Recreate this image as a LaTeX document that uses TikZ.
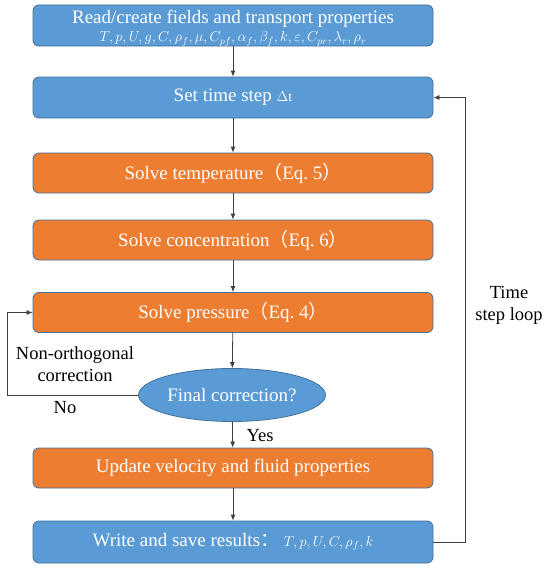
\documentclass[tikz,border=0pt]{standalone}
\usepackage{fontspec}
\setmainfont{Liberation Serif}
\newfontfamily\cjk{Noto Sans CJK SC}
\usetikzlibrary{shapes.geometric,arrows.meta}
\definecolor{bfill}{HTML}{5B9BD5}
\definecolor{ofill}{HTML}{ED7D31}
\definecolor{edge}{HTML}{41719C}
\definecolor{lineg}{HTML}{404040}
\begin{document}
\begin{tikzpicture}[x=1pt,y=-1pt,
  base/.style={draw=edge,line width=0.8pt,rounded corners=6pt,minimum width=400pt,minimum height=40pt,text=white,font=\fontsize{19}{20}\selectfont,align=center,inner sep=0pt},
  bluebox/.style={base,fill=bfill},
  orangebox/.style={base,fill=ofill},
  decide/.style={ellipse,draw=edge,line width=0.8pt,fill=bfill,minimum width=187pt,minimum height=53pt,text=white,font=\fontsize{19}{20}\selectfont,inner sep=0pt},
  conn/.style={draw=lineg,line width=0.8pt,-{Latex[length=6pt,width=5pt]}},
  lbl/.style={font=\fontsize{18.5}{22}\selectfont,align=center,text=black}]
\useasboundingbox (0,0) rectangle (550,570);
\node[bluebox,minimum height=41pt] (read) at (233,25.5) {\rule{0pt}{19pt}Read/create fields and transport properties\\[-2pt]{\fontsize{14}{14}\selectfont$T,p,U,g,C,\rho_f,\mu,C_{pf},\alpha_f,\beta_f,k,\varepsilon,C_{pr},\lambda_r,\rho_r$}};
\node[bluebox,minimum height=41pt] (dt) at (233,97.5) {Set time step {\fontsize{14}{14}\selectfont$\Delta$t}};
\node[orangebox] (temp) at (233,173) {Solve temperature{\cjk （}Eq.\ 5{\cjk ）}};
\node[orangebox] (conc) at (233,240) {Solve concentration{\cjk （}Eq.\ 6{\cjk ）}};
\node[orangebox] (pres) at (233,312.5) {Solve pressure{\cjk （}Eq.\ 4{\cjk ）}};
\node[decide] (final) at (232,395) {Final correction?};
\node[orangebox] (upd) at (233,468) {Update velocity and fluid properties};
\node[bluebox,minimum height=42pt] (write) at (233,542) {Write and save results{\cjk ：}\ {\fontsize{14}{14}\selectfont$T,p,U,C,\rho_f,k$}};
\coordinate (lt) at (7,395);
\coordinate (lb) at (7,312.5);
\coordinate (rb) at (465,542);
\coordinate (rt) at (465,97.5);
\draw[conn] (read) -- (dt);
\draw[conn] (dt) -- (temp);
\draw[conn] (temp) -- (conc);
\draw[conn] (conc) -- (pres);
\draw[conn] (pres) -- (final);
\draw[conn] (final) -- (upd);
\draw[conn] (upd) -- (write);
\draw[conn] (final.west) -- (lt) -- (lb) -- (pres.west);
\draw[conn] (write.east) -- (rb) -- (rt) -- (dt.east);
\node[lbl] (noc) at (75,364) {Non-orthogonal\\correction};
\node[lbl] (no) at (65,408) {No};
\node[lbl] (yes) at (260,436) {Yes};
\node[lbl] (tsl) at (509,305) {Time\\step loop};
\end{tikzpicture}
\end{document}
